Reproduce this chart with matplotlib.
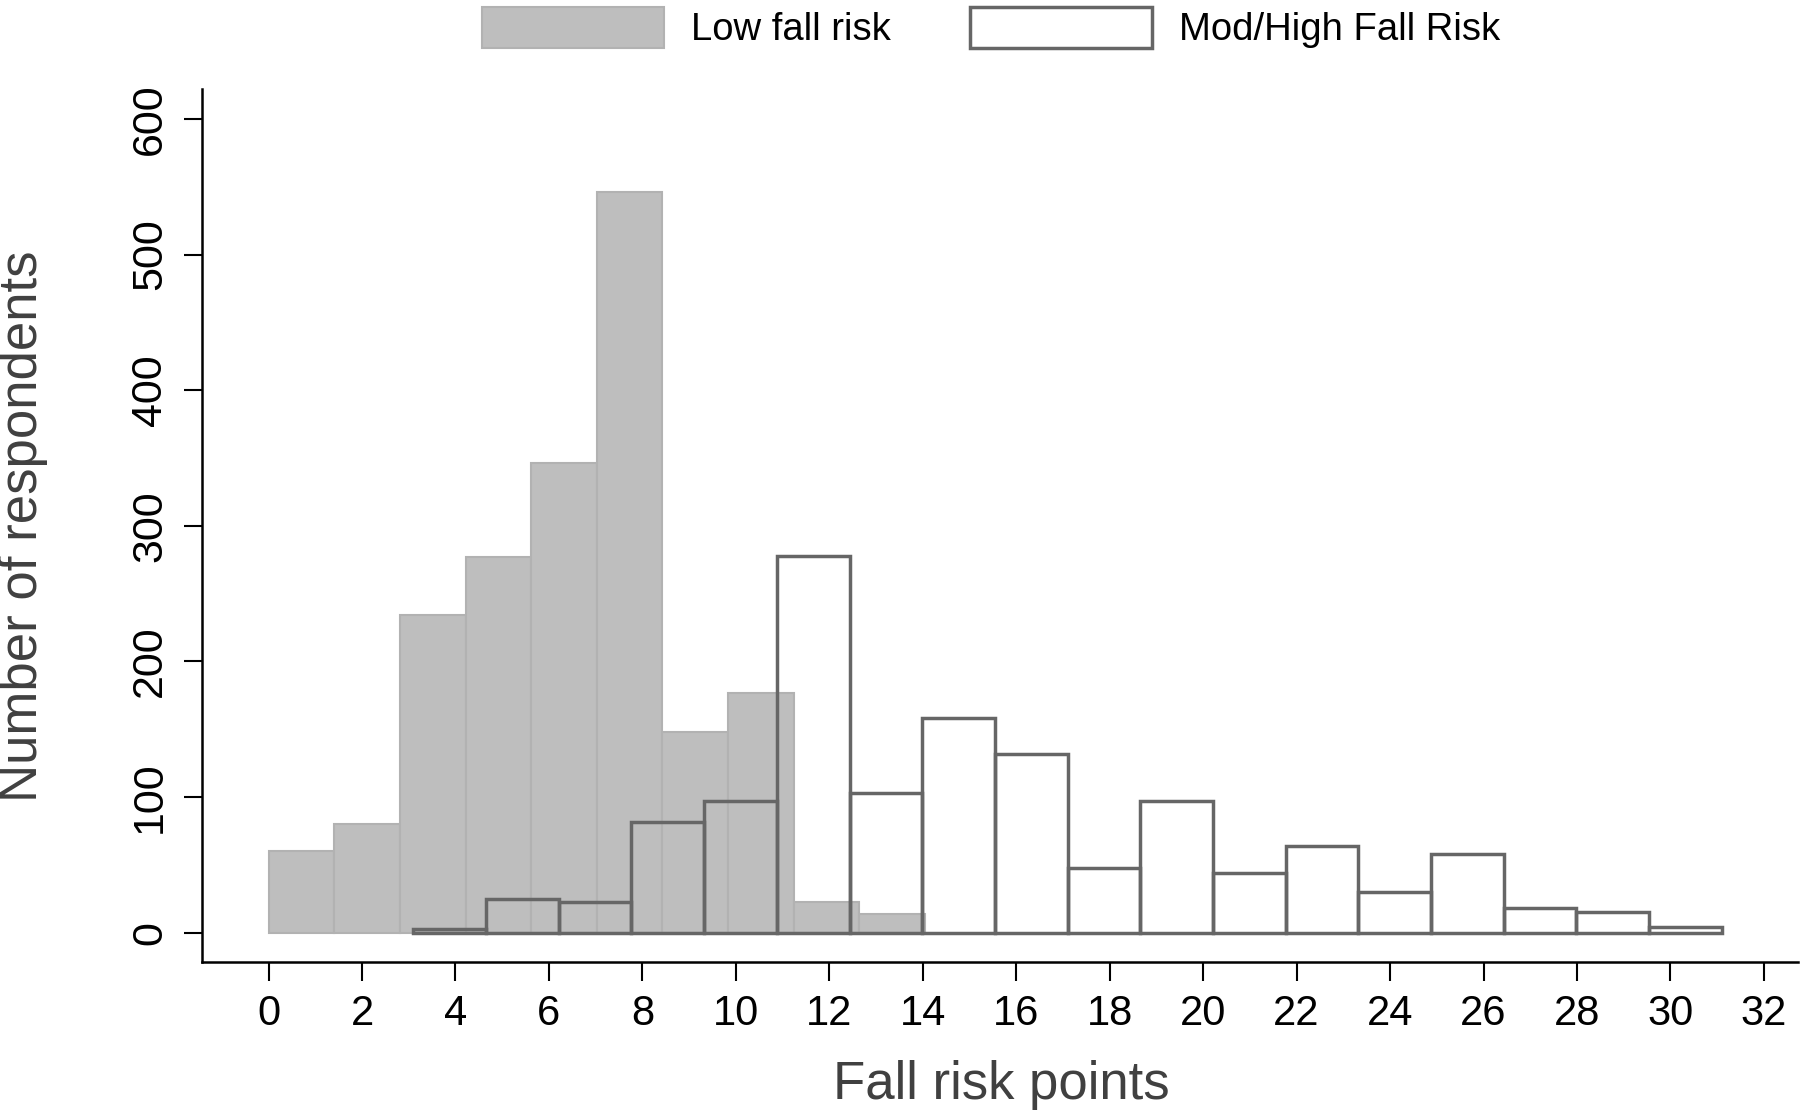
import numpy as np
import matplotlib
matplotlib.use("Agg")
import matplotlib.pyplot as plt

plt.rcParams['font.family'] = ['Liberation Sans', 'DejaVu Sans']

# histogram counts
low_counts = [60, 80, 234, 277, 346, 546, 148, 177, 23, 14]
low_start, low_width = 0.0, 1.405        # 10 bins over 0..14

mod_counts = [3, 25, 23, 82, 97, 278, 103, 158, 132, 48, 97, 44, 64, 30, 58, 18, 15, 4]
mod_start, mod_width = 3.1, 28 / 18      # 18 bins over ~3..31

x_ticks = list(range(0, 33, 2))
y_ticks = [0, 100, 200, 300, 400, 500, 600]

fig = plt.figure(figsize=(18, 11.17), dpi=100)
ax = fig.add_axes([0.1122, 0.1385, 0.8867, 0.7816])

low_left = low_start + low_width * np.arange(len(low_counts))
mod_left = mod_start + mod_width * np.arange(len(mod_counts))

ax.bar(low_left, low_counts, width=low_width, align='edge',
       color='#bebebe', edgecolor='#b2b2b2', linewidth=1.5, label='Low fall risk')
ax.bar(mod_left, mod_counts, width=mod_width, align='edge',
       facecolor='none', edgecolor='#666666', linewidth=2.5, label='Mod/High Fall Risk')

ax.set_xlim(-1.425, 32.73)
ax.set_ylim(-21.8, 621.9)
ax.set_xticks(x_ticks)
ax.set_yticks(y_ticks)

for side in ['top', 'right']:
    ax.spines[side].set_visible(False)
for side in ['left', 'bottom']:
    ax.spines[side].set_linewidth(1.8)
    ax.spines[side].set_color('black')

ax.tick_params(axis='x', length=13.5, width=1.5, pad=9, labelsize=30)
ax.tick_params(axis='y', length=13, width=1.5, pad=10, labelsize=31)
plt.setp(ax.get_yticklabels(), rotation=90, va='center')

fig.text(23 / 1800, 1 - 526 / 1117, 'Number of respondents', rotation=90,
         ha='center', va='center', fontsize=38, color='#404040')
fig.text(1001 / 1800, 1 - 1085 / 1117, 'Fall risk points',
         ha='center', va='center', fontsize=38, color='#404040')

fig.legend(loc='center', bbox_to_anchor=(991 / 1800, 1 - 27.5 / 1117), ncol=2,
           frameon=False, fontsize=27.5, handlelength=4.76, handleheight=1.28,
           handletextpad=0.71, columnspacing=2.07, borderpad=0, borderaxespad=0)

fig.savefig('out.png', dpi=100)
